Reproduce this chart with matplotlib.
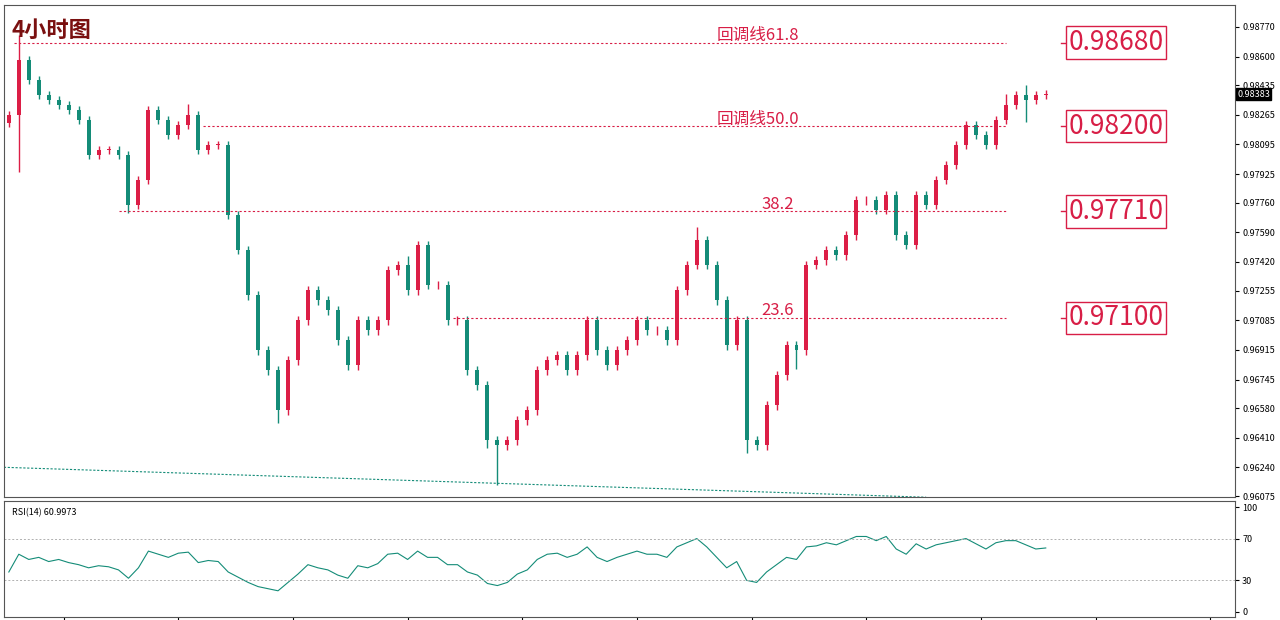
import matplotlib.pyplot as plt
import numpy as np

plt.rcParams['font.family'] = ['Noto Sans CJK SC', 'DejaVu Sans']

# 4h closes
closes = [0.98264, 0.98580, 0.98465, 0.98379, 0.98350, 0.98322, 0.98293, 0.98235, 0.98034, 0.98063,
          0.98063, 0.98034, 0.97747, 0.97890, 0.98293, 0.98235, 0.98149, 0.98207, 0.98264, 0.98063,
          0.98092, 0.98092, 0.97689, 0.97488, 0.97229, 0.96913, 0.96798, 0.96568, 0.96855, 0.97085,
          0.97258, 0.97200, 0.97143, 0.96970, 0.96827, 0.97085, 0.97028, 0.97085, 0.97373, 0.97402,
          0.97258, 0.97517, 0.97287, 0.97287, 0.97085, 0.97085, 0.96798, 0.96712, 0.96396, 0.96367,
          0.96396, 0.96511, 0.96568, 0.96798, 0.96855, 0.96884, 0.96798, 0.96884, 0.97085, 0.96913,
          0.96827, 0.96913, 0.96970, 0.97085, 0.97028, 0.97028, 0.96970, 0.97258, 0.97402, 0.97545,
          0.97402, 0.97200, 0.96942, 0.97085, 0.96396, 0.96367, 0.96597, 0.96769, 0.96942, 0.96913,
          0.97402, 0.97430, 0.97488, 0.97459, 0.97574, 0.97775, 0.97775, 0.97718, 0.97804, 0.97574,
          0.97517, 0.97804, 0.97747, 0.97890, 0.97977, 0.98092, 0.98207, 0.98149, 0.98092, 0.98235,
          0.98322, 0.98379, 0.98350, 0.98379, 0.98383]
first_open = 0.98220
wick_default = 0.00025
wick_hi_extra = {1: 0.00120, 18: 0.0004, 40: 0.0003, 69: 0.0005, 100: 0.0004, 102: 0.0003}
wick_lo_extra = {1: 0.0030, 12: 0.0002, 27: 0.0005, 48: 0.0002, 49: 0.0020, 74: 0.0005, 79: 0.0008, 102: 0.0010}

rsi = [38, 55, 50, 52, 48, 50, 47, 45, 42, 44, 43, 40, 32, 42, 58, 55, 52, 56, 57, 47,
       49, 48, 38, 33, 28, 24, 22, 20, 28, 36, 45, 42, 40, 35, 32, 44, 42, 46, 55, 56,
       50, 58, 52, 52, 45, 45, 38, 35, 27, 25, 28, 36, 40, 50, 55, 56, 52, 55, 62, 52,
       48, 52, 55, 58, 55, 55, 52, 62, 66, 70, 62, 52, 42, 48, 30, 28, 38, 45, 52, 50,
       62, 63, 66, 64, 68, 72, 72, 68, 72, 60, 55, 65, 60, 64, 66, 68, 70, 65, 60, 66,
       68, 68, 64, 60, 61]

levels = [0.98680, 0.98200, 0.97710, 0.97100]
level_names = ['回调线61.8', '回调线50.0', '38.2', '23.6']
level_starts = [0.5, 19.5, 11, 44.5]
yticks = [0.98770, 0.98600, 0.98435, 0.98265, 0.98095, 0.97925, 0.97760, 0.97590, 0.97420,
          0.97255, 0.97085, 0.96915, 0.96745, 0.96580, 0.96410, 0.96240, 0.96075]

up_c = '#dc1e46'
dn_c = '#148c78'
lab_c = '#d81e46'

fig = plt.figure(figsize=(12.8, 6.2), dpi=100)
ax = fig.add_axes([0.003, 0.198, 0.962, 0.794])
ax2 = fig.add_axes([0.003, 0.005, 0.962, 0.187])

opens = [first_open] + closes[:-1]
x = np.arange(len(closes))
for i, (o, c) in enumerate(zip(opens, closes)):
    col = up_c if c >= o else dn_c
    hi = max(o, c) + wick_default + wick_hi_extra.get(i, 0)
    lo = min(o, c) - wick_default - wick_lo_extra.get(i, 0)
    ax.vlines(i, lo, hi, color=col, lw=1)
    ax.bar(i, max(abs(c - o), 0.00003), bottom=min(o, c), width=0.4, color=col)

for lv, nm, st in zip(levels, level_names, level_starts):
    ax.plot([st, 100], [lv, lv], ls=(0, (2, 2)), color=lab_c, lw=0.8)
    ax.text(71 if '线' in nm else 75.5, lv + 0.00015, nm, color=lab_c, fontsize=12)
    ax.plot([105.5, 106.3], [lv, lv], color=lab_c, lw=1)
    ax.text(106.3, lv, '%.5f' % lv, color=lab_c, fontsize=19, va='center',
            bbox=dict(boxstyle='square,pad=0.1', fc='white', ec=lab_c, lw=1))

ax.plot([-0.5, 92], [0.96241, 0.96069], ls=(0, (2, 1.5)), color=dn_c, lw=0.8)
ax.text(0.3, 0.98710, '4小时图', color='#7a1010', fontsize=16, fontweight='bold')

ax.set_xlim(-0.5, 123)
ax.set_ylim(0.96069, 0.98896)
ax.set_xticks([])
ax.yaxis.tick_right()
ax.set_yticks(yticks)
ax.set_yticklabels(['%.5f' % t for t in yticks])
ax.tick_params(axis='y', labelsize=6.5, length=3, pad=2)
ax.text(123.2, 0.98383, '0.98383', color='white', fontsize=6.5, va='center',
        bbox=dict(boxstyle='square,pad=0.15', fc='black', ec='black'))

ax2.plot(x, rsi, color=dn_c, lw=0.8)
for lv in [70, 30]:
    ax2.axhline(lv, color='#b0b0b0', ls=(0, (2, 2)), lw=0.7)
ax2.set_xlim(-0.5, 123)
ax2.set_ylim(-5, 106)
ax2.set_xticks(np.arange(5.5, 123, 11.5))
ax2.tick_params(axis='x', length=3, labelbottom=False)
ax2.yaxis.tick_right()
ax2.set_yticks([0, 30, 70, 100])
ax2.tick_params(axis='y', labelsize=6.5, length=3, pad=2)
ax2.text(0.3, 95, 'RSI(14) 60.9973', fontsize=6.5, va='center')

for a in (ax, ax2):
    for s in a.spines.values():
        s.set_color('#555555')

fig.savefig('out.png', dpi=100)
